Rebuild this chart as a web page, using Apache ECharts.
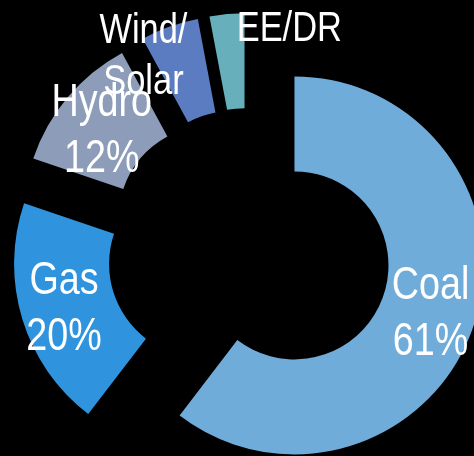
<!DOCTYPE html>
<html>
<head>
<meta charset="utf-8">
<script src="https://cdn.jsdelivr.net/npm/echarts@6/dist/echarts.min.js"></script>
<style>
  html, body { margin: 0; padding: 0; background: #000; }
  #chart { width: 474px; height: 456px; }
</style>
</head>
<body>
<div id="chart"></div>
<script>
// Generation mix, share of total (%; rounded, so the total is 101)
const categories = ['Coal', 'Gas', 'Hydro', 'Wind/\nSolar', 'EE/DR'];
const shares = [61, 20, 12, 5, 3];
const colors = ['#6FACDA', '#2F93DE', '#8D9DB9', '#5B7CC0', '#66AFBB'];

// Label shifts away from the default inside position (px)
const labelShift = [[-1, 3], [-1, 3], [0, 5], [-50, -12], [71, -29]];
const showPercent = [true, true, true, false, false];

const FONT = '"Liberation Sans Narrow", "Arial Narrow", "Liberation Sans", Arial, sans-serif';
// Narrow face emulation: horizontal squeeze of the label text
const NARROW = 0.82;

const data = categories.map((name, i) => ({
  name: name,
  value: shares[i],
  selected: true,
  itemStyle: { color: colors[i] },
  label: {
    formatter: showPercent[i] ? '{b}\n{c}%' : '{b}',
    fontSize: showPercent[i] ? 46 : 42,
    lineHeight: showPercent[i] ? 56 : 51
  }
}));

const chart = echarts.init(document.getElementById('chart'), null, { renderer: 'canvas' });
chart.setOption({
  backgroundColor: '#000000',
  animation: false,
  series: [{
    type: 'pie',
    center: [249, 250],
    radius: [94, 189],
    startAngle: 90,
    clockwise: true,
    selectedMode: 'multiple',
    selectedOffset: 48,
    avoidLabelOverlap: false,
    emphasis: { disabled: true, scale: false },
    itemStyle: { borderWidth: 0 },
    label: {
      show: true,
      position: 'inside',
      color: '#ffffff',
      fontFamily: FONT,
      textBorderWidth: 0,
      textShadowBlur: 0
    },
    labelLine: { show: false },
    labelLayout: function (params) {
      const s = labelShift[params.dataIndex];
      return { dx: s[0], dy: s[1] };
    },
    data: data
  }]
});

// Squeeze each slice label horizontally around its own anchor
const zr = chart.getZr();
zr.storage.getDisplayList(true).forEach(function (el) {
  const txt = el.getTextContent && el.getTextContent();
  if (txt) {
    txt.scaleX = NARROW;
    txt.dirty && txt.dirty();
    el.dirty && el.dirty();
  }
});
zr.refreshImmediately();
</script>
</body>
</html>
